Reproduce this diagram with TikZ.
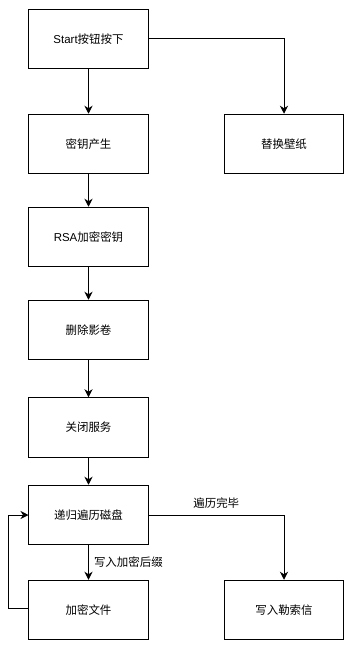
\documentclass[tikz,border=0pt]{standalone}
\usepackage{fontspec}
\setmainfont{Liberation Sans}
\newfontfamily\cjk{Noto Sans CJK SC}
\usetikzlibrary{arrows.meta}
\begin{document}
\begin{tikzpicture}[x=1bp,y=-1bp,
  box/.style={draw,line width=1bp,minimum width=119bp,minimum height=59.5bp,inner sep=0pt,font=\fontsize{11.5}{13}\selectfont},
  arr/.style={draw,line width=1bp,-{Stealth[length=8bp,width=8bp,inset=2.5bp]}},
  lbl/.style={font=\fontsize{11.5}{13}\selectfont,inner sep=0pt}]
\useasboundingbox[fill=white] (0,0) rectangle (362,655);
\node[box] (start) at (88.5,39) {Start{\cjk 按钮按下}};
\node[box] (key) at (88.5,144) {\cjk 密钥产生};
\node[box] (wall) at (284,144) {\cjk 替换壁纸};
\node[box] (rsa) at (88.5,237) {RSA{\cjk 加密密钥}};
\node[box] (del) at (88.5,330) {\cjk 删除影卷};
\node[box] (svc) at (88.5,427.5) {\cjk 关闭服务};
\node[box] (walk) at (88.5,515) {\cjk 递归遍历磁盘};
\node[box] (enc) at (88.5,610) {\cjk 加密文件};
\node[box] (note) at (284,610) {\cjk 写入勒索信};
\coordinate (lx1) at (8,608);
\coordinate (lx2) at (8,515);
\draw[arr] (start) -- (key);
\draw[arr] (start.east) -| (wall.north);
\draw[arr] (key) -- (rsa);
\draw[arr] (rsa) -- (del);
\draw[arr] (del) -- (svc);
\draw[arr] (svc) -- (walk);
\draw[arr] (walk) -- node[lbl,right=5bp,anchor=west,pos=0.5] {\cjk 写入加密后缀} (enc);
\draw[arr] (walk.east) -| node[lbl,pos=0.25,above=6bp] {\cjk 遍历完毕} (note.north);
\draw[arr] (enc.west |- lx1) -- (lx1) -- (lx2) -- (walk.west);
\end{tikzpicture}
\end{document}
